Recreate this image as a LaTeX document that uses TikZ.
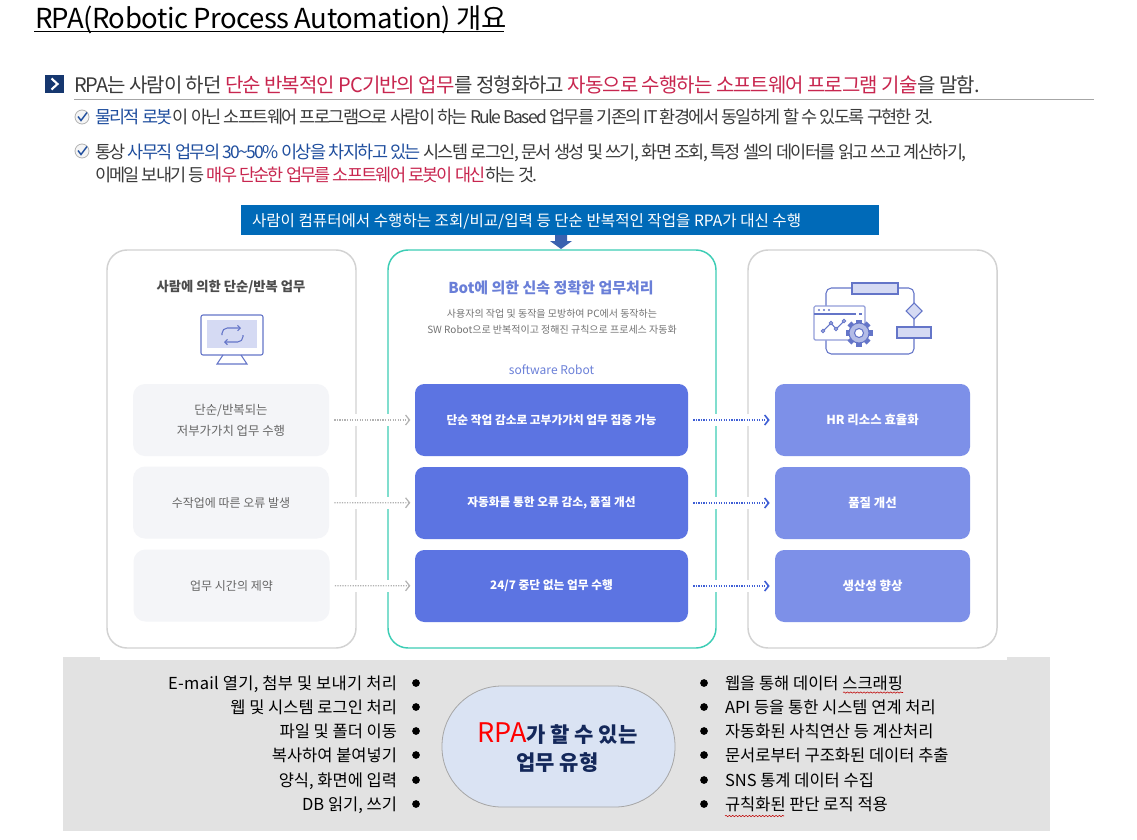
\documentclass[tikz,border=0pt]{standalone}
\usepackage{fontspec}
\setmainfont{Noto Sans CJK KR}
\usetikzlibrary{arrows.meta,decorations.pathmorphing}
\definecolor{redtxt}{HTML}{C8264F}
\definecolor{bluetxt}{HTML}{1F4E9E}
\definecolor{bodytxt}{HTML}{3A3A3A}
\definecolor{panelgray}{HTML}{D2D2D2}
\definecolor{tealline}{HTML}{3CCDB5}
\definecolor{midbox}{HTML}{5C74E2}
\definecolor{rightbox}{HTML}{7D90E8}
\definecolor{leftbox}{HTML}{F4F5F8}
\definecolor{icon}{HTML}{6475C8}
\definecolor{iconfill}{HTML}{D5DAF3}
\definecolor{band}{HTML}{E2E2E2}
\definecolor{navytxt}{HTML}{14285A}
\definecolor{bannerblue}{HTML}{006AB8}
\definecolor{downblue}{HTML}{3A62B0}
\definecolor{bottitle}{HTML}{6A7FD8}
\definecolor{pill}{HTML}{DAE3F3}
\definecolor{flowblue}{HTML}{3F5FD5}
\newcommand{\px}[1]{\fontsize{\dimexpr #1pt*3/4\relax}{\dimexpr #1pt\relax}\selectfont}
\newcommand{\rd}[1]{\textcolor{redtxt}{#1}}
\newcommand{\bl}[1]{\textcolor{bluetxt}{#1}}
\tikzset{
  x=0.75pt,y=-0.75pt,
  txt/.style={inner sep=0pt,outer sep=0pt,anchor=base west,text=bodytxt},
  ctr/.style={inner sep=0pt,outer sep=0pt,anchor=center,align=center},
  panel/.style={draw=panelgray,line width=1.1pt,rounded corners=15pt,fill=white},
  midpanel/.style={draw=tealline,line width=1.1pt,rounded corners=15pt,fill=white},
  lbox/.style={fill=leftbox,rounded corners=9pt,inner sep=0pt,outer sep=0pt,minimum width=147pt,minimum height=54pt,text=black!60,font=\px{12.4},align=center},
  mbox/.style={fill=midbox,rounded corners=7pt,inner sep=0pt,outer sep=0pt,minimum width=204.75pt,minimum height=54pt,text=white,font=\bfseries\px{11.7}},
  rbox/.style={fill=rightbox,rounded corners=7pt,inner sep=0pt,outer sep=0pt,minimum width=146.25pt,minimum height=54pt,text=white,font=\bfseries\px{12.4}},
  greyflow/.style={draw=black!30,line width=0.9pt,densely dotted,-{Straight Barb[length=3pt,width=7.5pt,line width=0.9pt]},shorten <=4pt,shorten >=3.5pt},
  blueflow/.style={draw=flowblue,line width=0.9pt,densely dotted,-{Straight Barb[length=3pt,width=7.5pt,line width=1.2pt]},shorten <=4pt,shorten >=4pt},
  icn/.style={draw=icon,line width=0.8pt},
  listl/.style={inner sep=0pt,outer sep=0pt,anchor=base east,text=black,font=\px{16.5}},
  listr/.style={inner sep=0pt,outer sep=0pt,anchor=base west,text=black,font=\px{16.5}},
  dot/.style={circle,fill=black,inner sep=0pt,minimum size=5.8pt},
  squig/.style={draw=red!75!black,line width=0.4pt,decorate,decoration={snake,amplitude=0.5pt,segment length=2.5pt}},
  chk/.style={circle,draw=black!30,fill=black!4,line width=0.6pt,inner sep=0pt,minimum size=10.5pt},
}
\begin{document}
\begin{tikzpicture}
\useasboundingbox (0,0) rectangle (1137,839);
\fill[white] (0,0) rectangle (1137,839);

% title
\node[txt,text=black] (title) at (35,28.5) {\addfontfeatures{LetterSpace=-1.9}\px{27.5}RPA(Robotic Process Automation) 개요};
\draw[line width=0.9pt] (34,31.5) -- (504,31.5);

% lead line
\node[fill=bluetxt!70!black,minimum width=14pt,minimum height=13.5pt,inner sep=0pt] (sq) at (54.5,84) {};
\draw[white,line width=1.6pt] (51.5,78.5) -- (57.5,84) -- (51.5,89.5);
\node[txt] (lead) at (74,92) {\addfontfeatures{LetterSpace=-5}\px{20}RPA는 사람이 하던 \rd{단순 반복적인 PC기반의 업무}를 정형화하고 \rd{자동으로 수행하는 소프트웨어 프로그램 기술}을 말함.};
\draw[black!35,line width=0.6pt] (74,99.5) -- (1094,99.5);

% check items
\node[chk] (c1) at (82,117) {};
\draw[bluetxt,line width=1.1pt] (78,116.5) -- (81,120.5) -- (87,112.5);
\node[txt] (t1) at (95,123) {\addfontfeatures{LetterSpace=-9.6}\px{17.5}\bl{물리적 로봇}이 아닌 소프트웨어 프로그램으로 사람이 하는 Rule Based 업무를 기존의 IT 환경에서 동일하게 할 수 있도록 구현한 것.};
\node[chk] (c2) at (82,151) {};
\draw[bluetxt,line width=1.1pt] (78,150.5) -- (81,154.5) -- (87,146.5);
\node[txt] (t2) at (95,158.5) {\addfontfeatures{LetterSpace=-9.3}\px{17.5}통상 \bl{사무직 업무의 30\textasciitilde 50\% 이상을 차지하고 있는} 시스템 로그인, 문서 생성 및 쓰기, 화면 조회, 특정 셀의 데이터를 읽고 쓰고 계산하기,};
\node[txt] (t3) at (95,181) {\addfontfeatures{LetterSpace=-10.3}\px{17.5}이메일 보내기 등 \rd{매우 단순한 업무를 소프트웨어 로봇이 대신}하는 것.};

% panels
\draw[panel] (107,250) rectangle (356,648);
\draw[midpanel] (388,250) rectangle (716,648);
\draw[panel] (748,250) rectangle (997,648);

% banner and down arrow
\node[fill=bannerblue,inner sep=0pt,outer sep=0pt,minimum width=478.5pt,minimum height=22.5pt] (banner) at (560,220) {};
\node[txt,text=white] (bannertext) at (252,226) {\px{15.6}사람이 컴퓨터에서 수행하는 조회/비교/입력 등 단순 반복적인 작업을 RPA가 대신 수행};
\fill[downblue] (555,235) -- (567,235) -- (567,241) -- (572,241) -- (561,249) -- (550,241) -- (555,241) -- cycle;

% panel headers
\node[ctr,text=black!70,font=\bfseries\px{13.3}] (h1) at (231,287) {사람에 의한 단순/반복 업무};
\node[ctr,text=bottitle,font=\bfseries\px{15}] (h2) at (551,287.5) {Bot에 의한 신속 정확한 업무처리};
\node[ctr,text=black!55,font=\px{10}] (h3) at (552,314) {사용자의 작업 및 동작을 모방하여 PC에서 동작하는};
\node[ctr,text=black!55,font=\px{10}] (h4) at (552,329.5) {SW Robot으로 반복적이고 정해진 규칙으로 프로세스 자동화};
\node[ctr,text=bottitle,font=\px{12}] (h5) at (551.5,369.5) {software Robot};

% monitor icon
\draw[icn,rounded corners=1.5pt] (201,315) rectangle (263,355);
\fill[iconfill] (207,320) rectangle (257,348);
\draw[icn] (223,355) -- (217,364) -- (247,364) -- (241,355);
\draw[icn,-{Straight Barb[length=2pt,width=4pt]},rounded corners=4pt] (222,335) -- (222,328) -- (241,328);
\draw[icn,-{Straight Barb[length=2pt,width=4pt]},rounded corners=4pt] (243,335) -- (243,342) -- (224,342);

% flow icon
\draw[icn,rounded corners=4pt] (826,340) -- (826,288) -- (914,288) -- (914,354) -- (826,354) -- (826,336);
\draw[icn,fill=iconfill] (852,283) rectangle (898,294);
\draw[icn,fill=iconfill] (914,303) -- (922,311) -- (914,319) -- (906,311) -- cycle;
\draw[icn,fill=iconfill] (897,327) rectangle (931,338);
\draw[draw=icon!70,line width=0.9pt,fill=white,rounded corners=1pt] (814,306) rectangle (865,340);
\draw[icn] (814,314) -- (856,314) (859,314) -- (862,314);
\foreach \xx in {819,824,829}{\fill[icon] (\xx,310) circle[radius=1.2];}
\draw[icn] (823,331) -- (831,323) -- (836,329) -- (844,321);
\foreach \xx/\yy in {823/331,831/323,836/329,844/321}{\draw[icn,fill=white] (\xx,\yy) circle[radius=1.7];}
\foreach \ang in {0,45,...,315}{\fill[icon,rotate around={\ang:(859,333)}] (856.2,319.5) rectangle (861.8,326);}
\draw[icn,fill=iconfill!70!icon] (859,333) circle[radius=10];
\draw[icn,fill=white] (859,333) circle[radius=4.5];

% rows
\node[lbox] (l1) at (231,420) {단순/반복되는\\[3.5pt]저부가가치 업무 수행};
\node[lbox,font=\px{12}] (l2) at (231,502.5) {수작업에 따른 오류 발생};
\node[lbox,font=\px{12}] (l3) at (231.5,585.5) {업무 시간의 제약};
\node[mbox] (m1) at (551.5,420) {단순 작업 감소로 고부가가치 업무 집중 가능};
\node[mbox] (m2) at (551.5,503) {자동화를 통한 오류 감소, 품질 개선};
\node[mbox] (m3) at (551.5,586) {24/7 중단 없는 업무 수행};
\node[rbox] (r1) at (872.5,420) {HR 리소스 효율화};
\node[rbox] (r2) at (872.5,503) {품질 개선};
\node[rbox] (r3) at (872.5,586) {생산성 향상};
\foreach \i in {1,2,3}{
  \fill[white] (384,{420+83*(\i-1)-6}) rectangle (392,{420+83*(\i-1)+6});
  \fill[white] (352,{420+83*(\i-1)-6}) rectangle (360,{420+83*(\i-1)+6});
  \fill[white] (712,{420+83*(\i-1)-6}) rectangle (720,{420+83*(\i-1)+6});
  \fill[white] (744,{420+83*(\i-1)-6}) rectangle (752,{420+83*(\i-1)+6});
  \draw[greyflow] (l\i) -- (m\i);
  \draw[blueflow] (m\i) -- (r\i);
}

% bottom band
\fill[band] (63,657) rectangle (1050,831);
\fill[white] (100,656.5) rectangle (1007,660);
\node[fill=pill,draw=black!35,line width=0.6pt,rounded corners=45pt,minimum width=174.75pt,minimum height=90.75pt,inner sep=0pt] (pillnode) at (558.5,746.5) {};
\node[ctr,text=navytxt,font=\bfseries\px{21}] (pilltext) at (557.5,748) {\textcolor{red}{\mdseries\px{27}RPA}가 할 수 있는\\[0pt]업무 유형};

\node[listl] (a1) at (397,689) {\addfontfeatures{LetterSpace=1.8}E-mail 열기, 첨부 및 보내기 처리};
\node[listl] (a2) at (397,713) {웹 및 시스템 로그인 처리};
\node[listl] (a3) at (397,737) {파일 및 폴더 이동};
\node[listl] (a4) at (397,761) {복사하여 붙여넣기};
\node[listl] (a5) at (397,786) {양식, 화면에 입력};
\node[listl] (a6) at (397,810) {DB 읽기, 쓰기};
\foreach \yy [count=\i] in {683,707,731,755,780,804}{
  \node[dot] (ad\i) at (416,\yy) {};
  \node[dot] (bd\i) at (704,\yy) {};
}
\node[listr] (b1) at (725,689) {웹을 통해 데이터 스크래핑};
\node[listr] (b2) at (725,713) {API 등을 통한 시스템 연계 처리};
\node[listr] (b3) at (725,737) {자동화된 사칙연산 등 계산처리};
\node[listr] (b4) at (725,761) {문서로부터 구조화된 데이터 추출};
\node[listr] (b5) at (725,786) {SNS 통계 데이터 수집};
\node[listr] (b6) at (725,810) {규칙화된 판단 로직 적용};
\draw[squig] (843,692.5) -- (903,692.5);
\draw[squig] (725,816) -- (784,816);
\end{tikzpicture}
\end{document}
